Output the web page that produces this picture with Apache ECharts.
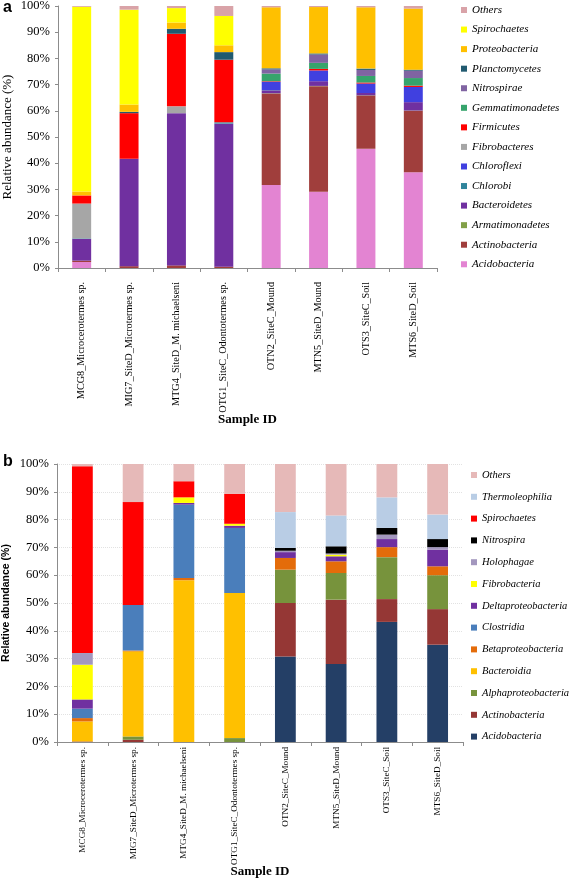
<!DOCTYPE html>
<html>
<head>
<meta charset="utf-8">
<script src="https://cdn.jsdelivr.net/npm/echarts@6/dist/echarts.min.js"></script>
<style>html,body{margin:0;padding:0;background:#fff}#c{width:572px;height:880px}</style>
</head>
<body>
<div id="c"></div>
<script>
// ---------- DATA ----------
const samples = ['MCG8_Microcerotermes sp.', 'MIG7_SiteD_Microtermes sp.', 'MTG4_SiteD_M. michaelseni', 'OTG1_SiteC_Odontotermes sp.', 'OTN2_SiteC_Mound', 'MTN5_SiteD_Mound', 'OTS3_SiteC_Soil', 'MTS6_SiteD_Soil'];
const yTicksPct = [0, 10, 20, 30, 40, 50, 60, 70, 80, 90, 100];

// Panel a (phylum level), bottom to top
const phylaNames = ['Acidobacteria', 'Actinobacteria', 'Armatimonadetes', 'Bacteroidetes', 'Chlorobi', 'Chloroflexi', 'Fibrobacteres', 'Firmicutes', 'Gemmatimonadetes', 'Nitrospirae', 'Planctomycetes', 'Proteobacteria', 'Spirochaetes', 'Others'];
const aAcidobacteria    = [2.3, 0, 0, 0, 31.7, 29.1, 45.5, 36.5];
const aActinobacteria   = [0.5, 0.7, 1.0, 0.5, 34.9, 40.3, 20.3, 23.5];
const aArmatimonadetes  = [0, 0, 0, 0, 0.1, 0.1, 0.1, 0.1];
const aBacteroidetes    = [8.3, 41.0, 58.1, 54.6, 1.1, 1.8, 0.9, 3.2];
const aChlorobi         = [0.2, 0, 0, 0.5, 0.1, 0, 0, 0];
const aChloroflexi      = [0, 0, 0, 0, 3.2, 4.1, 3.6, 5.8];
const aFibrobacteres    = [13.3, 0, 2.6, 0, 0, 0, 0, 0];
const aFirmicutes       = [3.1, 17.4, 27.7, 23.9, 0.2, 0.6, 0.4, 0.5];
const aGemmatimonadetes = [0, 0, 0, 0, 2.9, 2.3, 2.5, 2.9];
const aNitrospirae      = [0, 0, 0, 0, 1.6, 3.2, 2.3, 2.8];
const aPlanctomycetes   = [0, 0.5, 1.9, 2.9, 0.4, 0.4, 0.5, 0.4];
const aProteobacteria   = [1.5, 2.8, 2.4, 2.6, 23.3, 17.7, 23.4, 23.3];
const aSpirochaetes     = [70.5, 36.2, 5.5, 11.2, 0, 0, 0, 0];
const aOthers           = [0.3, 1.4, 0.8, 3.8, 0.5, 0.4, 0.5, 1.0];
const phylaValues = [aAcidobacteria, aActinobacteria, aArmatimonadetes, aBacteroidetes, aChlorobi, aChloroflexi, aFibrobacteres, aFirmicutes, aGemmatimonadetes, aNitrospirae, aPlanctomycetes, aProteobacteria, aSpirochaetes, aOthers];
const phylaColors = ['#E384D2', '#A03E3C', '#82A048', '#7030A0', '#31859C', '#4040E0', '#A6A6A6', '#FF0000', '#36A46C', '#8064A2', '#215A70', '#FFC000', '#FFFF00', '#D9A3A8'];

// Panel b (class level), bottom to top
const classNames = ['Acidobacteria', 'Actinobacteria', 'Alphaproteobacteria', 'Bacteroidia', 'Betaproteobacteria', 'Clostridia', 'Deltaproteobacteria', 'Fibrobacteria', 'Holophagae', 'Nitrospira', 'Spirochaetes', 'Thermoleophilia', 'Others'];
const bAcidobacteria       = [0, 0, 0, 0, 30.8, 28.1, 43.2, 35.0];
const bActinobacteria      = [0.2, 0.8, 0, 0, 19.2, 23.1, 8.2, 12.8];
const bAlphaproteobacteria = [0, 1.2, 0, 1.4, 12.0, 9.6, 15.1, 12.2];
const bBacteroidia         = [7.2, 30.6, 58.2, 52.2, 0, 0, 0, 0];
const bBetaproteobacteria  = [1.2, 0.3, 0.8, 0, 4.2, 4.2, 3.6, 3.2];
const bClostridia          = [3.4, 16.4, 26.4, 23.4, 0, 0, 0, 0];
const bDeltaproteobacteria = [3.3, 0, 0.6, 0.8, 2.1, 1.8, 2.9, 6.0];
const bFibrobacteria       = [12.5, 0, 2.0, 0.7, 0, 0.6, 0, 0];
const bHolophagae          = [4.2, 0, 0, 0, 0.5, 0.4, 1.6, 0.9];
const bNitrospira          = [0, 0, 0, 0, 1.0, 2.6, 2.4, 2.9];
const bSpirochaetes        = [67.2, 37.0, 5.8, 10.8, 0, 0, 0, 0];
const bThermoleophilia     = [0, 0, 0, 0, 12.9, 11.1, 11.0, 8.8];
const bOthers              = [0.8, 13.7, 6.2, 10.7, 17.3, 18.5, 12.0, 18.2];
const classValues = [bAcidobacteria, bActinobacteria, bAlphaproteobacteria, bBacteroidia, bBetaproteobacteria, bClostridia, bDeltaproteobacteria, bFibrobacteria, bHolophagae, bNitrospira, bSpirochaetes, bThermoleophilia, bOthers];
const classColors = ['#243F66', '#953735', '#77933C', '#FFC000', '#E46C0A', '#4A7EBB', '#7030A0', '#FFFF00', '#A397BE', '#000000', '#FF0000', '#B9CDE5', '#E6B9B8'];

// ---------- CHART ----------
const serif = "'Liberation Serif', 'Times New Roman', serif";
const sans = "'Liberation Sans', Arial, sans-serif";
const axisGrey = '#8c8c8c';

function yAxis(gridIndex, name, nameFont, nameWeight, nameSize, nameGap, dotted) {
  return {
    type: 'value', gridIndex, min: 0, max: 100, interval: 10,
    name, nameLocation: 'middle', nameGap, nameMoveOverlap: false,
    nameTextStyle: { fontFamily: nameFont, fontWeight: nameWeight, fontSize: nameSize, color: '#000' },
    axisLine: { show: true, lineStyle: { color: axisGrey } },
    axisTick: { show: true, length: 3, lineStyle: { color: axisGrey } },
    axisLabel: { formatter: v => v + '%', fontFamily: serif, fontSize: 12.5, color: '#000', margin: 8 },
    splitLine: dotted ? { show: true, lineStyle: { type: 'dotted', color: '#e2e2e2', width: 1 } } : { show: false }
  };
}
function xAxis(gridIndex, nameGap, labelSize, labelMargin) {
  return {
    type: 'category', gridIndex, data: samples,
    name: 'Sample ID', nameLocation: 'middle', nameGap, nameMoveOverlap: false,
    nameTextStyle: { fontFamily: serif, fontWeight: 'bold', fontSize: 13, color: '#000' },
    axisLine: { show: true, lineStyle: { color: axisGrey } },
    axisTick: { show: true, alignWithLabel: false, length: 4, lineStyle: { color: axisGrey } },
    axisLabel: { rotate: 90, interval: 0, fontFamily: serif, fontSize: labelSize, color: '#000', margin: labelMargin },
    splitLine: { show: false }
  };
}

const series = [];
phylaNames.forEach((n, i) => series.push({
  name: n, type: 'bar', stack: 'a', xAxisIndex: 0, yAxisIndex: 0, barWidth: '40%',
  data: phylaValues[i], itemStyle: { color: phylaColors[i] }, legendHoverLink: false
}));
classNames.forEach((n, i) => series.push({
  name: 'b:' + n, type: 'bar', stack: 'b', xAxisIndex: 1, yAxisIndex: 1, barWidth: '41%',
  data: classValues[i], itemStyle: { color: classColors[i] }
}));

const legendTextA = { fontFamily: serif, fontStyle: 'italic', fontSize: 11, color: '#000', lineHeight: 12 };
const legendTextB = { fontFamily: serif, fontStyle: 'italic', fontSize: 10.5, color: '#000', lineHeight: 12 };
const option = {
  animation: false,
  backgroundColor: '#fff',
  grid: [
    { left: 58, top: 6, width: 379, height: 262, outerBoundsMode: 'none', containLabel: false },
    { left: 57, top: 464, width: 406, height: 278, outerBoundsMode: 'none', containLabel: false }
  ],
  xAxis: [xAxis(0, 145, 10.2, 14), xAxis(1, 123, 9.2, 5)],
  yAxis: [
    yAxis(0, 'Relative abundance (%)', serif, 'normal', 13, 44, false),
    yAxis(1, 'Relative abundance (%)', sans, 'bold', 10.5, 45, true)
  ],
  legend: [
    {
      orient: 'vertical', left: 456, top: -1, itemWidth: 6, itemHeight: 6, itemGap: 7.56, icon: 'rect',
      data: phylaNames.slice().reverse(), textStyle: legendTextA, selectedMode: false
    },
    {
      orient: 'vertical', left: 466, top: 464, itemWidth: 6, itemHeight: 6, itemGap: 9.8, icon: 'rect',
      data: classNames.slice().reverse().map(n => 'b:' + n), textStyle: legendTextB, selectedMode: false,
      formatter: n => n.slice(2)
    }
  ],
  graphic: [
    { type: 'text', left: 3, top: 0, style: { text: 'a', font: 'bold 16px ' + sans, fill: '#000' } },
    { type: 'text', left: 3, top: 454, style: { text: 'b', font: 'bold 16px ' + sans, fill: '#000' } }
  ],
  series
};
const chart = echarts.init(document.getElementById('c'), null, { renderer: 'canvas' });
chart.setOption(option);
</script>
</body>
</html>
